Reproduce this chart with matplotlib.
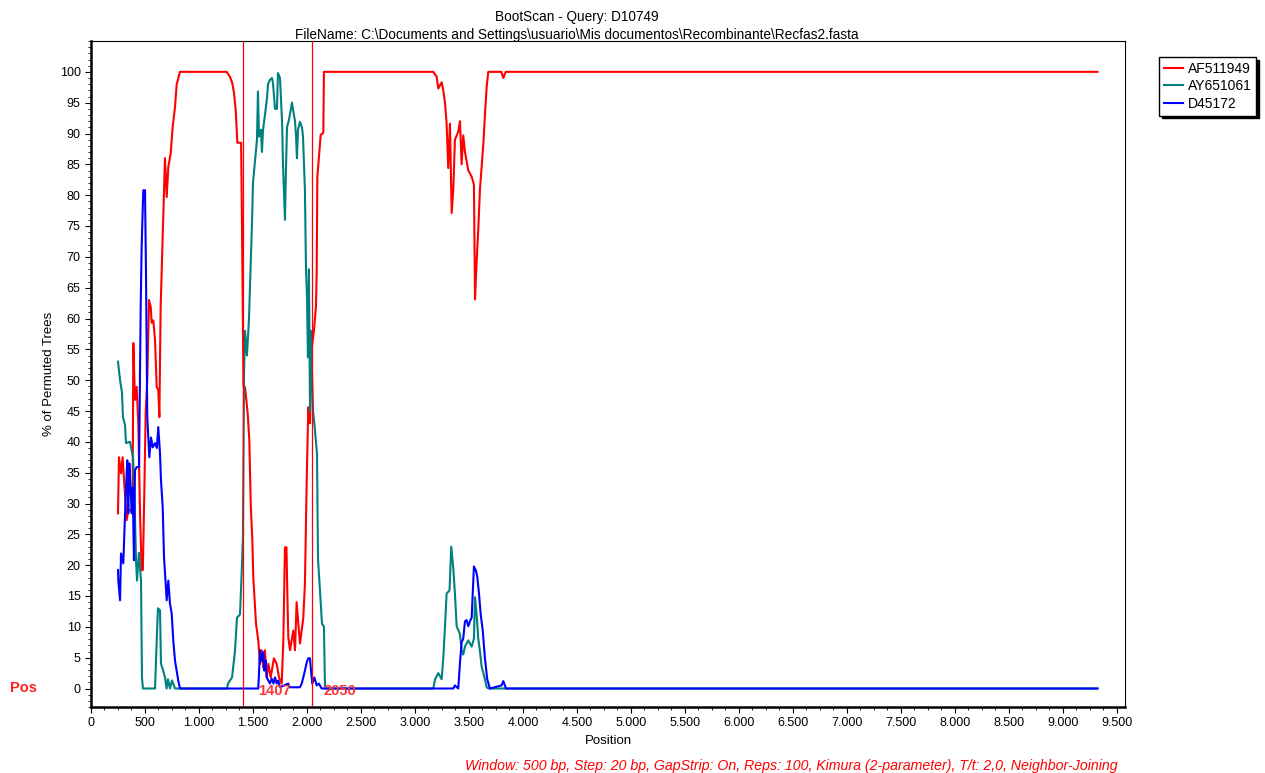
import matplotlib
matplotlib.use("Agg")
import matplotlib.pyplot as plt
from matplotlib.ticker import MultipleLocator, FixedLocator, FuncFormatter
from matplotlib.transforms import blended_transform_factory

plt.rcParams['font.family'] = ['Liberation Sans', 'DejaVu Sans']

# values (position bp, % of permuted trees)
af_pos = [250, 259, 278, 293, 306, 330, 345, 385, 392, 407, 423, 438, 454, 469, 480, 494,
          506, 521, 537, 553, 562, 577, 593, 608, 623, 633, 645, 655, 670, 685, 701, 716,
          738, 756, 778, 793, 824, 1256, 1287, 1308, 1324, 1340, 1355, 1390, 1398, 1412,
          1426, 1451, 1466, 1479, 1494, 1503, 1528, 1549, 1565, 1580, 1595, 1611, 1627, 1642,
          1664, 1694, 1719, 1741, 1766, 1781, 1796, 1810, 1818, 1827, 1843, 1858, 1873, 1889,
          1904, 1920, 1935, 1951, 1966, 1981, 1997, 2012, 2028, 2042, 2065, 2083, 2090, 2096,
          2111, 2127, 2151, 2157, 3170, 3201, 3216, 3247, 3262, 3278, 3293, 3308, 3324, 3340,
          3355, 3370, 3401, 3417, 3432, 3447, 3463, 3494, 3525, 3546, 3556, 3571, 3586, 3602,
          3633, 3648, 3664, 3679, 3800, 3818, 3840, 9320]
af_val = [28.4, 37.5, 34.9, 37.5, 33.8, 27.3, 28.9, 28.9, 56, 46.8, 48.9, 43, 28.4, 19.2, 19.2, 32.1,
          44.6, 50, 63, 61.9, 59.3, 59.7, 56.5, 48.9, 48.4, 44, 61.9, 67.9, 77, 86, 79.7, 84.6,
          86.8, 91, 94.3, 97.9, 100, 100, 99.2, 98.2, 96.6, 93.8, 88.5, 88.5, 75.5, 49,
          48.9, 44.6, 40.3, 30, 24, 18, 10.5, 7.8, 4, 6.2, 3.4, 6.2, 1.8, 4,
          1.8, 4.9, 4, 1.8, 0.8, 7.8, 22.9, 22.9, 15.4, 8.3, 6.2, 7.8, 9.4, 6.2,
          14, 10.5, 7.3, 9.4, 11.5, 17, 33.3, 45.6, 43, 54.9, 58.1, 61.9, 67.4, 83,
          86.2, 89.8, 90.1, 100, 100, 99.2, 97.3, 98.3, 97, 95, 91.6, 84.4, 91.6, 77.1,
          81, 89, 90.3, 92, 85, 89.7, 87, 84, 83, 81.7, 63.1, 69.2, 74.4, 81,
          88.3, 93, 97.6, 100, 100, 99, 100, 100]

ay_pos = [250, 269, 287, 296, 315, 324, 361, 389, 398, 407, 417, 426, 444, 463, 472, 481,
          593, 602, 611, 620, 639, 648, 667, 685, 700, 713, 731, 750, 778, 1259, 1269, 1306,
          1333, 1352, 1380, 1398, 1407, 1412, 1417, 1426, 1444, 1463, 1481, 1491, 1500, 1537,
          1546, 1556, 1574, 1583, 1593, 1611, 1630, 1639, 1657, 1676, 1685, 1704, 1722, 1731,
          1750, 1769, 1778, 1796, 1806, 1815, 1833, 1861, 1870, 1889, 1898, 1907, 1917, 1935,
          1954, 1963, 1981, 1991, 2000, 2009, 2018, 2028, 2037, 2056, 2074, 2093, 2102, 2120,
          2139, 2157, 2167, 3170, 3186, 3216, 3247, 3262, 3278, 3293, 3320, 3336, 3355, 3370,
          3386, 3417, 3432, 3447, 3463, 3494, 3525, 3546, 3556, 3571, 3586, 3602, 3617, 3648,
          3664, 3680, 9320]
ay_val = [53, 50, 48, 44, 42.7, 39.8, 40, 37.5, 33.8, 28, 20.8, 17.5, 22, 17.5, 1.8, 0,
          0, 4.5, 9, 13, 12.7, 4, 3, 1.8, 0, 1.5, 0, 1.3, 0, 0, 0.8, 1.8,
          6, 11.5, 12, 20, 24.5, 38, 51, 58, 54, 60, 70, 75.6, 82, 89,
          96.8, 89.5, 90.6, 87, 90.6, 93, 95.8, 98, 98.7, 99, 98.2, 94, 94, 99.8,
          99, 92, 85, 76, 84.6, 91, 92.2, 95, 94, 92, 89.8, 86, 90.6, 91.9,
          91, 89.5, 80.8, 67.9, 63.5, 53.7, 68, 45, 58, 45, 41.9, 38, 21, 16,
          10.5, 10, 0, 0, 1.5, 2.5, 1.5, 4.9, 10.1, 15.4, 15.9, 23, 19.5, 15.4,
          10.1, 8.8, 6.2, 5.5, 6.8, 7.8, 6.8, 8.1, 14.8, 12, 8.1, 6, 3.6, 1.5,
          0.2, 0, 0]

d45_pos = [250, 253, 269, 278, 299, 324, 336, 345, 355, 368, 377, 386, 398, 407, 423, 445,
           460, 469, 484, 500, 509, 521, 540, 556, 571, 593, 610, 623, 639, 648, 664, 676,
           688, 701, 716, 731, 747, 762, 778, 793, 808, 824, 1549, 1565, 1580, 1595, 1605,
           1618, 1627, 1657, 1673, 1690, 1704, 1720, 1734, 1750, 1827, 1840, 1935, 1951,
           1966, 1981, 1997, 2012, 2028, 2037, 2049, 2068, 2090, 2110, 2136, 3355, 3370,
           3401, 3417, 3432, 3447, 3463, 3478, 3494, 3509, 3525, 3546, 3565, 3577, 3593,
           3608, 3627, 3648, 3669, 3694, 3802, 3818, 3843, 9320]
d45_val = [19.2, 17.5, 14.3, 21.9, 20.3, 32.6, 37, 28.4, 36.5, 32.1, 28.4, 32.6, 20.8, 35.4, 35.9, 35.9,
           61.9, 71.6, 80.8, 80.8, 67.9, 44, 37.5, 40.7, 39.1, 39.8, 39, 42.4, 38.1, 33.8, 29.4, 21.3,
           18, 14.3, 17.5, 13.8, 12.2, 7.8, 4.5, 2.9, 1.3, 0, 0, 6.2, 4.5, 5.9, 2.9,
           4.5, 1.8, 0.8, 1.6, 0.8, 1.8, 0.8, 1.3, 0.2, 0.8, 0.2, 0.2, 0.8,
           1.8, 2.9, 4.2, 4.9, 4.9, 2.9, 0.8, 1.8, 0.5, 0.8, 0, 0, 0.5,
           0, 4.2, 7.5, 8.1, 10.9, 11.1, 10.1, 10.9, 11.5, 19.8, 19.1, 18.1, 15.4,
           12.1, 9.5, 4.9, 1.5, 0, 0.5, 1.2, 0, 0]

series = [("AF511949", af_pos, af_val, "#ff0000"),
          ("AY651061", ay_pos, ay_val, "#008080"),
          ("D45172", d45_pos, d45_val, "#0000ff")]
breakpoints = [1407, 2050]
bp_label_offsets = [11, 8]

fig = plt.figure(figsize=(12.65, 7.73), dpi=100)
ax = fig.add_axes([91 / 1265, 66 / 773, 1034 / 1265, 666 / 773])

for name, xs, ys, col in series:
    ax.plot(xs, ys, color=col, lw=1.5, label=name)

for bp, off in zip(breakpoints, bp_label_offsets):
    ax.axvline(bp, color="#ff0000", lw=0.9, zorder=5)
    ax.annotate(str(bp), xy=(bp, 0), xytext=(off, -1.5), textcoords="offset points",
                ha="left", va="center", color="#ff3333", fontsize=10.5,
                fontweight="bold", zorder=6)

tr = blended_transform_factory(fig.transFigure, ax.transData)
ax.text(10 / 1265, 0, "Pos", transform=tr, color="#ff2020", fontsize=10.5,
        fontweight="bold", va="center", ha="left")

ax.set_xlim(0, 9575)
ax.set_ylim(-3, 105)
ax.xaxis.set_major_locator(MultipleLocator(500))
ax.xaxis.set_minor_locator(MultipleLocator(125))
ax.yaxis.set_major_locator(FixedLocator(range(0, 101, 5)))
ax.yaxis.set_minor_locator(FixedLocator(range(-3, 106)))
ax.xaxis.set_major_formatter(FuncFormatter(lambda v, p: f"{int(v):,}".replace(",", ".")))
ax.tick_params(which="major", length=4, width=0.8, labelsize=9)
ax.tick_params(which="minor", length=2, width=0.6)

for s in ("left", "bottom"):
    ax.spines[s].set_linewidth(1.8)
for s in ("top", "right"):
    ax.spines[s].set_linewidth(0.8)

ax.set_xlabel("Position", fontsize=9.5, labelpad=4)
ax.set_ylabel("% of Permuted Trees", fontsize=9.5, labelpad=3)

fig.text(577 / 1265, 1 - 17 / 773, "BootScan - Query: D10749", ha="center",
         va="center", fontsize=9.8)
fig.text(577 / 1265, 1 - 35 / 773,
         "FileName: C:\\Documents and Settings\\usuario\\Mis documentos\\Recombinante\\Recfas2.fasta",
         ha="center", va="center", fontsize=9.8)
fig.text(1118 / 1265, 1 - 766 / 773,
         "Window: 500 bp, Step: 20 bp, GapStrip: On, Reps: 100, Kimura (2-parameter), T/t: 2,0, Neighbor-Joining",
         ha="right", va="center", fontsize=10.2, style="italic", color="#ff0000")

leg = fig.legend(loc="upper left", bbox_to_anchor=(1159 / 1265, 1 - 57 / 773),
                 fontsize=10, frameon=True, fancybox=False, edgecolor="black",
                 shadow={"color": "black", "alpha": 1}, handlelength=1.4,
                 handletextpad=0.3, borderpad=0.35, labelspacing=0.25,
                 borderaxespad=0)
leg.get_frame().set_linewidth(1.0)

fig.savefig("out.png", dpi=100)
